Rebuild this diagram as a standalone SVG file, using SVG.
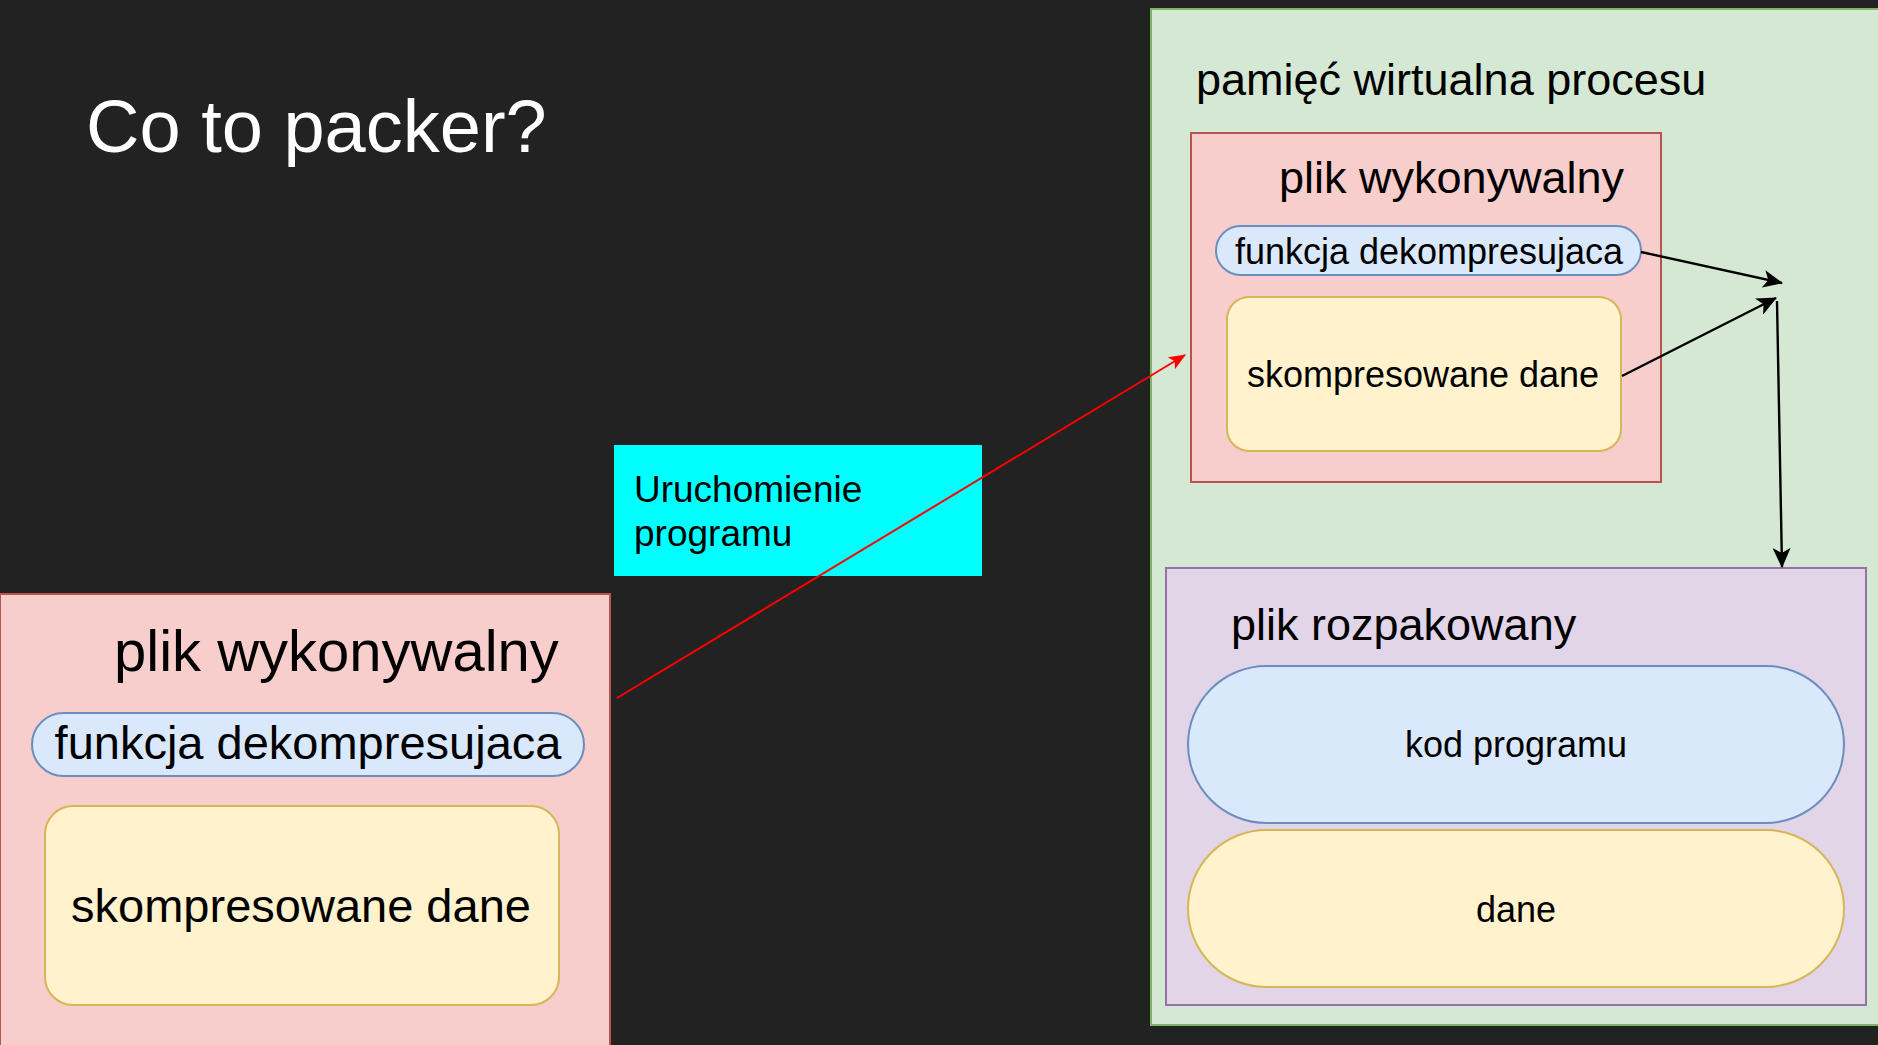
<svg xmlns="http://www.w3.org/2000/svg" width="1878" height="1045" viewBox="0 0 1878 1045">
  <style>
    text { font-family: "Liberation Sans", Arial, sans-serif; fill: #000; }
    .pink { fill: #f8cecc; stroke: #b85450; stroke-width: 2; }
    .blue { fill: #dae8fc; stroke: #6c8ebf; stroke-width: 2; }
    .yellow { fill: #fff2cc; stroke: #d6b656; stroke-width: 2; }
    .green { fill: #d5e8d4; stroke: #82b366; stroke-width: 2; }
    .purple { fill: #e1d5e7; stroke: #9673a6; stroke-width: 2; }
    .edge { fill: none; stroke: #000; stroke-width: 2.4; }
    .run { fill: none; stroke: #ff0000; stroke-width: 2; }
  </style>
  <defs>
    <marker id="arrowBlack" viewBox="0 0 20 18" refX="19" refY="9" markerWidth="20" markerHeight="18" markerUnits="userSpaceOnUse" orient="auto">
      <path d="M0,0 L20,9 L0,18 L5,9 z" fill="#000"/>
    </marker>
    <marker id="arrowRed" viewBox="0 0 17 14" refX="16" refY="7" markerWidth="17" markerHeight="14" markerUnits="userSpaceOnUse" orient="auto">
      <path d="M0,0 L17,7 L0,14 L4,7 z" fill="#ff0000"/>
    </marker>
  </defs>

  <!-- slide background -->
  <rect x="0" y="0" width="1878" height="1045" fill="#222222"/>

  <text id="title" x="86" y="152" font-size="74" style="fill:#ffffff">Co to packer?</text>

  <!-- packed executable on disk -->
  <g id="exe-disk">
    <rect class="pink" x="0" y="594" width="610" height="460"/>
    <text x="114" y="671" font-size="58">plik wykonywalny</text>
  </g>
  <g id="exe-disk-decompressor">
    <rect class="blue" x="32" y="713" width="552" height="63" rx="31.5"/>
    <text x="308" y="759" font-size="47" text-anchor="middle">funkcja dekompresujaca</text>
  </g>
  <g id="exe-disk-data">
    <rect class="yellow" x="45" y="806" width="514" height="199" rx="28"/>
    <text x="301" y="922" font-size="47" text-anchor="middle">skompresowane dane</text>
  </g>

  <!-- launch label -->
  <g id="launch">
    <rect x="614" y="445" width="368" height="131" fill="#00ffff"/>
    <text x="634" y="502" font-size="37">Uruchomienie</text>
    <text x="634" y="546" font-size="37">programu</text>
  </g>

  <!-- process virtual memory -->
  <g id="memory">
    <rect class="green" x="1151" y="9" width="740" height="1016"/>
    <text x="1196" y="95" font-size="45">pamięć wirtualna procesu</text>
  </g>
  <g id="exe-mem">
    <rect class="pink" x="1191" y="133" width="470" height="349"/>
    <text x="1279" y="193" font-size="45">plik wykonywalny</text>
  </g>
  <g id="exe-mem-decompressor">
    <rect class="blue" x="1216" y="226" width="425" height="49" rx="24.5"/>
    <text x="1429" y="264" font-size="36" text-anchor="middle">funkcja dekompresujaca</text>
  </g>
  <g id="exe-mem-data">
    <rect class="yellow" x="1227" y="297" width="394" height="154" rx="22"/>
    <text x="1423" y="387" font-size="36" text-anchor="middle">skompresowane dane</text>
  </g>

  <g id="unpacked">
    <rect class="purple" x="1166" y="568" width="700" height="437"/>
    <text x="1231" y="640" font-size="45">plik rozpakowany</text>
  </g>
  <g id="unpacked-code">
    <rect class="blue" x="1188" y="666" width="656" height="157" rx="78.5"/>
    <text x="1516" y="757" font-size="36" text-anchor="middle">kod programu</text>
  </g>
  <g id="unpacked-data">
    <rect class="yellow" x="1188" y="830" width="656" height="157" rx="78.5"/>
    <text x="1516" y="922" font-size="36" text-anchor="middle">dane</text>
  </g>

  <!-- connectors -->
  <g id="connectors">
    <line class="run" x1="617" y1="698" x2="1185" y2="355" marker-end="url(#arrowRed)"/>
    <line class="edge" x1="1641" y1="252" x2="1782" y2="283" marker-end="url(#arrowBlack)"/>
    <line class="edge" x1="1622" y1="376" x2="1776" y2="298" marker-end="url(#arrowBlack)"/>
    <line class="edge" x1="1777" y1="301" x2="1782" y2="567" marker-end="url(#arrowBlack)"/>
  </g>
</svg>
